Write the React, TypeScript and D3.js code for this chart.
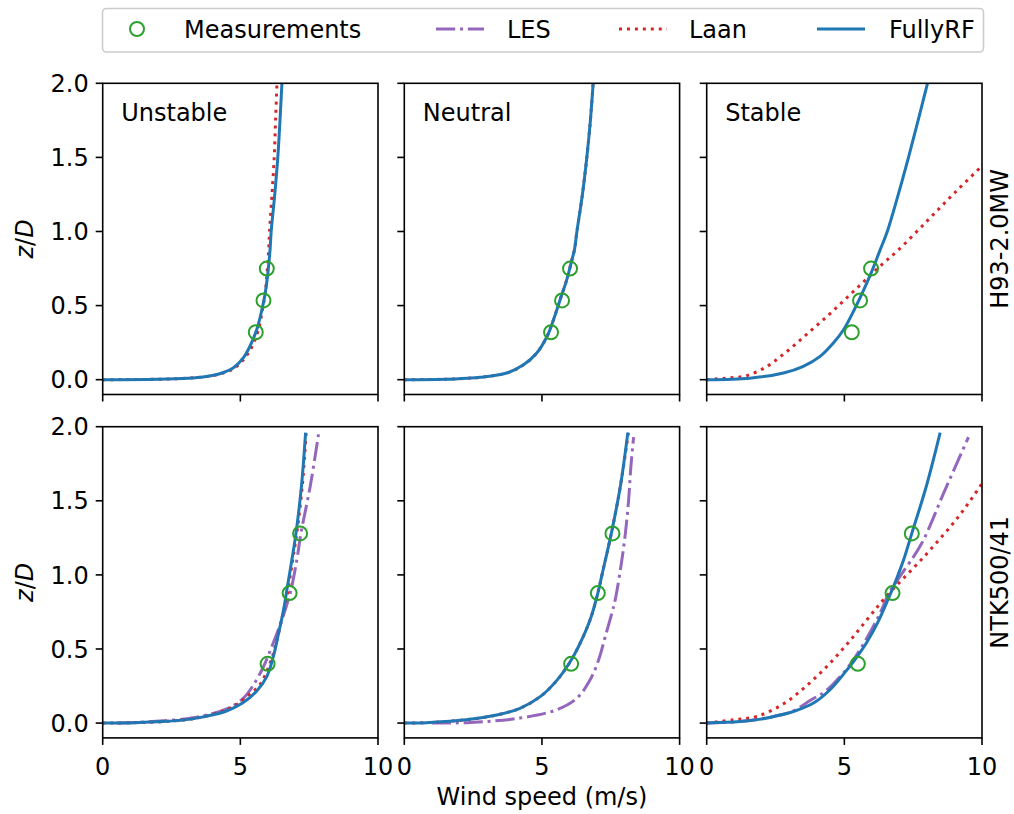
import React from "react";
import * as d3 from "d3";

// ---------- data ----------
const rowNames = ["H93-2.0MW", "NTK500/41"];
const colNames = ["Unstable", "Neutral", "Stable"];
const xTicks = [0, 5, 10];
const yTicks = [0, 0.5, 1.0, 1.5, 2.0];
const yTickLabels = ["0.0", "0.5", "1.0", "1.5", "2.0"];
const legendLabels = ["Measurements", "LES", "Laan", "FullyRF"];

// Measurements
const measH93_z = [0.32, 0.535, 0.75];
const measH93Unstable_u = [5.56, 5.84, 5.96];
const measH93Neutral_u = [5.33, 5.73, 6.02];
const measH93Stable_u = [5.27, 5.57, 5.97];
const measNTK_z = [0.4, 0.877, 1.28];
const measNTKUnstable_u = [5.99, 6.79, 7.17];
const measNTKNeutral_u = [6.06, 7.03, 7.56];
const measNTKStable_u = [5.49, 6.75, 7.45];

// H93 unstable
const rfH93Unstable_z = [0, 0.003, 0.01, 0.02, 0.04, 0.08, 0.15, 0.23, 0.34, 0.47, 0.58, 0.72, 0.88, 1.0, 1.25, 1.5, 1.75, 2.0, 2.1];
const rfH93Unstable_u = [0, 2.0, 3.1, 3.7, 4.25, 4.75, 5.12, 5.36, 5.6, 5.78, 5.9, 6.0, 6.08, 6.12, 6.25, 6.36, 6.44, 6.51, 6.54];
const laanH93Unstable_z = [0, 0.003, 0.01, 0.02, 0.04, 0.08, 0.15, 0.23, 0.34, 0.47, 0.58, 0.72, 0.88, 1.0, 1.25, 1.5, 1.75, 2.0, 2.1];
const laanH93Unstable_u = [0, 2.0, 3.1, 3.72, 4.3, 4.8, 5.18, 5.44, 5.66, 5.8, 5.9, 5.97, 6.03, 6.06, 6.15, 6.23, 6.28, 6.33, 6.35];

// H93 neutral
const rfH93Neutral_z = [0, 0.003, 0.01, 0.016, 0.045, 0.1, 0.18, 0.29, 0.405, 0.54, 0.674, 0.81, 0.876, 1.0, 1.25, 1.5, 1.75, 2.0, 2.1];
const rfH93Neutral_u = [0, 1.5, 2.3, 2.75, 3.72, 4.33, 4.81, 5.18, 5.42, 5.66, 5.9, 6.09, 6.18, 6.27, 6.47, 6.63, 6.76, 6.86, 6.9];
const laanH93Neutral_z = [0, 0.003, 0.01, 0.016, 0.045, 0.1, 0.18, 0.29, 0.405, 0.54, 0.674, 0.81, 0.876, 1.0, 1.25, 1.5, 1.75, 2.0, 2.1];
const laanH93Neutral_u = [0, 1.5, 2.3, 2.75, 3.72, 4.33, 4.81, 5.18, 5.42, 5.66, 5.9, 6.09, 6.18, 6.27, 6.47, 6.63, 6.76, 6.86, 6.9];

// H93 stable
const rfH93Stable_z = [0, 0.01, 0.045, 0.09, 0.157, 0.247, 0.337, 0.472, 0.584, 0.719, 0.876, 1.0, 1.25, 1.5, 1.75, 2.0, 2.1];
const rfH93Stable_u = [0, 1.57, 2.79, 3.51, 4.12, 4.6, 4.97, 5.36, 5.65, 5.97, 6.3, 6.56, 6.96, 7.33, 7.68, 8.02, 8.15];
const laanH93Stable_z = [0, 0.011, 0.027, 0.085, 0.162, 0.243, 0.332, 0.42, 0.51, 0.602, 0.696, 0.787, 0.866, 1.07, 1.26, 1.443, 1.5];
const laanH93Stable_u = [0, 0.73, 1.45, 2.15, 2.72, 3.25, 3.79, 4.33, 4.85, 5.37, 5.9, 6.42, 6.91, 8.0, 9.0, 10.0, 10.3];

// NTK unstable
const rfNTKUnstable_z = [0, 0.003, 0.01, 0.02, 0.04, 0.078, 0.135, 0.213, 0.314, 0.45, 0.607, 0.764, 0.921, 1.1, 1.28, 1.6, 1.96];
const rfNTKUnstable_u = [0, 1.2, 2.2, 2.9, 3.6, 4.45, 5.08, 5.58, 5.96, 6.2, 6.39, 6.57, 6.71, 6.87, 7.02, 7.22, 7.37];
const lesNTKUnstable_z = [0, 0.01, 0.04, 0.1, 0.168, 0.25, 0.38, 0.52, 0.65, 0.877, 1.1, 1.28, 1.6, 1.95];
const lesNTKUnstable_u = [0.5, 1.8, 3.4, 4.55, 5.11, 5.45, 5.84, 6.15, 6.42, 6.81, 7.05, 7.2, 7.54, 7.84];
const laanNTKUnstable_z = [0, 0.01, 0.04, 0.112, 0.18, 0.258, 0.38, 0.517, 0.7, 0.854, 1.1, 1.28, 1.6, 1.96];
const laanNTKUnstable_u = [0, 2.2, 3.6, 4.75, 5.24, 5.7, 6.03, 6.27, 6.5, 6.69, 6.9, 7.05, 7.25, 7.39];

// NTK neutral
const rfNTKNeutral_z = [0, 0.003, 0.01, 0.027, 0.056, 0.1, 0.18, 0.29, 0.4, 0.517, 0.697, 0.877, 1.0, 1.28, 1.6, 1.96];
const rfNTKNeutral_u = [0, 0.8, 1.5, 2.45, 3.4, 4.2, 4.95, 5.55, 5.98, 6.33, 6.75, 7.03, 7.18, 7.52, 7.85, 8.12];
const lesNTKNeutral_z = [0, 0.004, 0.034, 0.09, 0.168, 0.292, 0.427, 0.584, 0.742, 0.831, 1.06, 1.28, 1.51, 1.73, 1.93];
const lesNTKNeutral_u = [1.0, 2.39, 4.2, 5.54, 6.27, 6.75, 7.06, 7.3, 7.54, 7.66, 7.87, 8.03, 8.15, 8.23, 8.33];
const laanNTKNeutral_z = [0, 0.003, 0.01, 0.027, 0.056, 0.1, 0.18, 0.29, 0.4, 0.517, 0.697, 0.877, 1.0, 1.28, 1.6, 1.96];
const laanNTKNeutral_u = [0, 0.8, 1.5, 2.45, 3.4, 4.2, 4.95, 5.55, 5.98, 6.33, 6.75, 7.03, 7.18, 7.52, 7.85, 8.14];

// NTK stable
const rfNTKStable_z = [0, 0.01, 0.025, 0.045, 0.078, 0.135, 0.225, 0.337, 0.427, 0.54, 0.674, 0.831, 0.966, 1.1, 1.28, 1.6, 1.96];
const rfNTKStable_u = [0, 1.2, 1.9, 2.45, 3.15, 3.88, 4.48, 5.0, 5.38, 5.8, 6.2, 6.58, 6.88, 7.15, 7.45, 7.98, 8.48];
const lesNTKStable_z = [0, 0.01, 0.025, 0.045, 0.078, 0.157, 0.213, 0.314, 0.427, 0.584, 0.742, 0.877, 0.99, 1.21, 1.57, 1.93];
const lesNTKStable_u = [0, 1.2, 1.9, 2.45, 3.1, 3.8, 4.3, 4.85, 5.33, 5.85, 6.3, 6.62, 7.02, 7.8, 8.65, 9.51];
const laanNTKStable_z = [0, 0.022, 0.045, 0.13, 0.254, 0.393, 0.544, 0.697, 0.85, 1.12, 1.38, 1.6, 1.7];
const laanNTKStable_u = [0, 0.97, 1.82, 2.79, 3.64, 4.42, 5.15, 5.82, 6.5, 7.88, 9.09, 9.94, 10.3];

type Curve = { u: number[]; z: number[] } | null;
type Panel = { meas: Curve; les: Curve; laan: Curve; rf: Curve };

const panels: Panel[][] = [
  [
    { meas: { u: measH93Unstable_u, z: measH93_z }, les: null, laan: { u: laanH93Unstable_u, z: laanH93Unstable_z }, rf: { u: rfH93Unstable_u, z: rfH93Unstable_z } },
    { meas: { u: measH93Neutral_u, z: measH93_z }, les: null, laan: { u: laanH93Neutral_u, z: laanH93Neutral_z }, rf: { u: rfH93Neutral_u, z: rfH93Neutral_z } },
    { meas: { u: measH93Stable_u, z: measH93_z }, les: null, laan: { u: laanH93Stable_u, z: laanH93Stable_z }, rf: { u: rfH93Stable_u, z: rfH93Stable_z } },
  ],
  [
    { meas: { u: measNTKUnstable_u, z: measNTK_z }, les: { u: lesNTKUnstable_u, z: lesNTKUnstable_z }, laan: { u: laanNTKUnstable_u, z: laanNTKUnstable_z }, rf: { u: rfNTKUnstable_u, z: rfNTKUnstable_z } },
    { meas: { u: measNTKNeutral_u, z: measNTK_z }, les: { u: lesNTKNeutral_u, z: lesNTKNeutral_z }, laan: { u: laanNTKNeutral_u, z: laanNTKNeutral_z }, rf: { u: rfNTKNeutral_u, z: rfNTKNeutral_z } },
    { meas: { u: measNTKStable_u, z: measNTK_z }, les: { u: lesNTKStable_u, z: lesNTKStable_z }, laan: { u: laanNTKStable_u, z: laanNTKStable_z }, rf: { u: rfNTKStable_u, z: rfNTKStable_z } },
  ],
];

// ---------- layout ----------
const W = 1014;
const H = 814;
const colLeft = [102.7, 404.3, 706.7];
const panelW = 275.3;
const rowTop = [83.3, 426.7];
const panelH = 311.2;
const FONT = "DejaVu Sans, sans-serif";
const FS = 24;
const C_MEAS = "#2ca02c";
const C_LES = "#9467bd";
const C_LAAN = "#d62728";
const C_RF = "#1f77b4";
const LW = 3;
const DASH_LES = "19.2,4.8,3,4.8";
const DASH_LAAN = "3,4.95";

function PanelView({ r, c, p }: { r: number; c: number; p: Panel }) {
  const x0 = colLeft[c];
  const y0 = rowTop[r];
  const xs = d3.scaleLinear().domain([0, 10]).range([x0, x0 + panelW]);
  const ys = d3.scaleLinear().domain([-0.1, 2.0]).range([y0 + panelH, y0]);
  const line = (cv: Curve) => {
    if (!cv) return "";
    const pts: [number, number][] = cv.u.map((u, i) => [u, cv.z[i]]);
    return (
      d3
        .line<[number, number]>()
        .x((d) => xs(d[0]))
        .y((d) => ys(d[1]))
        .curve(d3.curveCatmullRom.alpha(0.5))(pts) || ""
    );
  };
  const clipId = `clip-${r}-${c}`;
  return (
    <g>
      <defs>
        <clipPath id={clipId}>
          <rect x={x0} y={y0} width={panelW} height={panelH} />
        </clipPath>
      </defs>
      <g clipPath={`url(#${clipId})`}>
        {p.les && <path d={line(p.les)} fill="none" stroke={C_LES} strokeWidth={LW} strokeDasharray={DASH_LES} />}
        {p.laan && <path d={line(p.laan)} fill="none" stroke={C_LAAN} strokeWidth={LW} strokeDasharray={DASH_LAAN} />}
        {p.rf && <path d={line(p.rf)} fill="none" stroke={C_RF} strokeWidth={LW} />}
        {p.meas &&
          p.meas.u.map((u, i) => (
            <circle key={i} cx={xs(u)} cy={ys(p.meas!.z[i])} r={7} fill="none" stroke={C_MEAS} strokeWidth={2} />
          ))}
      </g>
      <rect x={x0} y={y0} width={panelW} height={panelH} fill="none" stroke="#000" strokeWidth={1.6} />
      {xTicks.map((t) => (
        <g key={"x" + t}>
          <line x1={xs(t)} x2={xs(t)} y1={y0 + panelH} y2={y0 + panelH + 7} stroke="#000" strokeWidth={1.6} />
          {r === 1 && (
            <text x={xs(t)} y={775} textAnchor="middle" fontFamily={FONT} fontSize={FS}>
              {t}
            </text>
          )}
        </g>
      ))}
      {yTicks.map((t, i) => (
        <g key={"y" + t}>
          <line x1={x0 - 7} x2={x0} y1={ys(t)} y2={ys(t)} stroke="#000" strokeWidth={1.6} />
          {c === 0 && (
            <text x={x0 - 14} y={ys(t)} dy="0.36em" textAnchor="end" fontFamily={FONT} fontSize={FS}>
              {yTickLabels[i]}
            </text>
          )}
        </g>
      ))}
      {r === 0 && (
        <text x={x0 + 18.5} y={y0 + 38} fontFamily={FONT} fontSize={FS}>
          {colNames[c]}
        </text>
      )}
    </g>
  );
}

export default function App() {
  const legendItems = [
    { label: legendLabels[0], x: 137, tx: 184, kind: "meas" },
    { label: legendLabels[1], x: 436, tx: 507, kind: "les" },
    { label: legendLabels[2], x: 619, tx: 689, kind: "laan" },
    { label: legendLabels[3], x: 817, tx: 889, kind: "rf" },
  ];
  const ly = 29;
  return (
    <svg width={W} height={H} style={{ position: "absolute", left: 0, top: 0, background: "#fff" }}>
      <rect x={0} y={0} width={W} height={H} fill="#fff" />
      {panels.map((row, r) => row.map((p, c) => <PanelView key={`${r}-${c}`} r={r} c={c} p={p} />))}

      {/* legend */}
      <rect x={102.5} y={8.5} width={881} height={43.5} rx={4} fill="#fff" fillOpacity={0.8} stroke="#cccccc" strokeWidth={1.6} />
      {legendItems.map((it) => (
        <g key={it.label}>
          {it.kind === "meas" && <circle cx={it.x} cy={ly} r={7} fill="none" stroke={C_MEAS} strokeWidth={2} />}
          {it.kind === "les" && <line x1={it.x} x2={it.x + 48} y1={ly} y2={ly} stroke={C_LES} strokeWidth={LW} strokeDasharray={DASH_LES} />}
          {it.kind === "laan" && <line x1={it.x} x2={it.x + 48} y1={ly} y2={ly} stroke={C_LAAN} strokeWidth={LW} strokeDasharray={DASH_LAAN} />}
          {it.kind === "rf" && <line x1={it.x} x2={it.x + 48} y1={ly} y2={ly} stroke={C_RF} strokeWidth={LW} />}
          <text x={it.tx} y={ly} dy="0.36em" fontFamily={FONT} fontSize={FS}>
            {it.label}
          </text>
        </g>
      ))}

      {/* axis labels */}
      <text x={colLeft[1] + panelW / 2} y={805} textAnchor="middle" fontFamily={FONT} fontSize={FS}>
        Wind speed (m/s)
      </text>
      {rowTop.map((t, r) => (
        <g key={"lab" + r}>
          <text
            transform={`translate(33,${t + panelH / 2}) rotate(-90)`}
            textAnchor="middle"
            fontFamily={FONT}
            fontSize={FS}
          >
            <tspan fontStyle="italic">z</tspan>
            <tspan>/</tspan>
            <tspan fontStyle="italic">D</tspan>
          </text>
          <text
            transform={`translate(1008,${t + panelH / 2}) rotate(-90)`}
            textAnchor="middle"
            fontFamily={FONT}
            fontSize={FS}
          >
            {rowNames[r]}
          </text>
        </g>
      ))}
    </svg>
  );
}
